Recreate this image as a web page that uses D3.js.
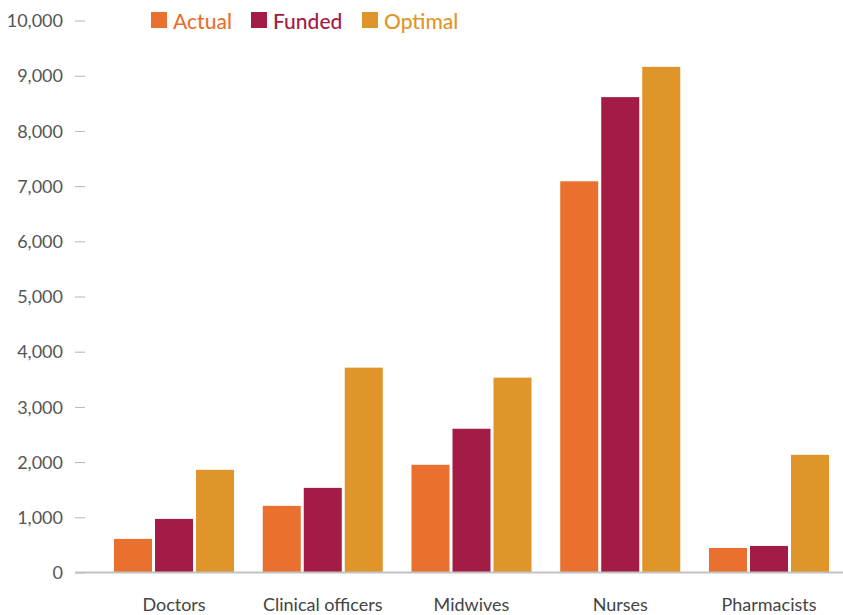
<!DOCTYPE html>
<html>
<head>
<meta charset="utf-8">
<script src="https://cdn.jsdelivr.net/npm/d3@7"></script>
<style>
  html, body { margin: 0; padding: 0; background: #fff; }
  svg { display: block; }
</style>
</head>
<body>
<svg id="chart" width="843" height="615"></svg>
<script>
const categories = ["Doctors", "Clinical officers", "Midwives", "Nurses", "Pharmacists"];
const seriesNames = ["Actual", "Funded", "Optimal"];
const actual  = [608, 1207, 1951, 7087, 445];
const funded  = [971, 1533, 2604, 8612, 481];
const optimal = [1860, 3711, 3530, 9160, 2132];
const yTicks = [0, 1000, 2000, 3000, 4000, 5000, 6000, 7000, 8000, 9000, 10000];
const colors = ["#E9702F", "#A31C45", "#DF9529"];

const seriesValues = [actual, funded, optimal];
const data = categories.map((c, i) => ({
  category: c,
  values: seriesNames.map((s, j) => ({ series: s, value: seriesValues[j][i], color: colors[j] }))
}));

const svg = d3.select("#chart");
const font = "Lato, 'Open Sans', sans-serif";

const x = d3.scaleBand().domain(categories).range([114, 829]).paddingInner(0.193).paddingOuter(0);
const x1 = d3.scaleBand().domain(seriesNames).range([0, x.bandwidth()]).paddingInner(3 / 41).paddingOuter(0);
const y = d3.scaleLinear().domain([0, 10000]).range([572.5, 20.5]);

// y axis ticks (short dashes + labels)
const yAxis = d3.axisLeft(y).tickValues(yTicks).tickSize(10).tickPadding(12)
  .tickFormat(d3.format(","));
const gy = svg.append("g").attr("transform", "translate(85,0)").call(yAxis);
gy.select(".domain").remove();
gy.selectAll(".tick line").attr("stroke", "#b5b5b5").attr("stroke-width", 1);
gy.selectAll(".tick text").attr("fill", "#555").attr("font-family", font)
  .attr("font-size", 18).attr("dy", "0.34em");

// bars
const groups = svg.append("g").selectAll("g").data(data).join("g")
  .attr("transform", d => `translate(${x(d.category)},0)`);
groups.selectAll("rect").data(d => d.values).join("rect")
  .attr("x", d => x1(d.series))
  .attr("width", x1.bandwidth())
  .attr("y", d => y(d.value))
  .attr("height", d => y(0) - y(d.value))
  .attr("fill", d => d.color);

// baseline
svg.append("line").attr("x1", 75).attr("x2", 843).attr("y1", y(0)).attr("y2", y(0))
  .attr("stroke", "#c2c2c2").attr("stroke-width", 2);

// x axis labels
const xAxis = d3.axisBottom(x).tickSize(0).tickPadding(26);
const gx = svg.append("g").attr("transform", `translate(0,${y(0)})`).call(xAxis);
gx.select(".domain").remove();
gx.selectAll(".tick text").attr("fill", "#444").attr("font-family", font).attr("font-size", 18);

// legend
const legendX = [151, 251, 362];
const legend = svg.append("g").selectAll("g").data(seriesNames).join("g")
  .attr("transform", (d, i) => `translate(${legendX[i]},12)`);
legend.append("rect").attr("width", 16).attr("height", 16).attr("fill", (d, i) => colors[i]);
legend.append("text").attr("x", 22).attr("y", 16.5).text(d => d)
  .attr("fill", (d, i) => colors[i]).attr("font-family", font)
  .attr("font-size", 21).attr("font-weight", 500);
</script>
</body>
</html>
